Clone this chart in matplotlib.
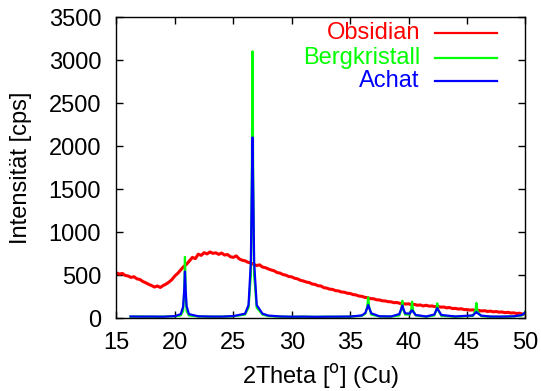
import numpy as np
import matplotlib
matplotlib.use("Agg")
import matplotlib.pyplot as plt

plt.rcParams['font.family'] = ['Liberation Sans', 'DejaVu Sans']
plt.rcParams['font.size'] = 17

obs_start = 15.0
obs_step = 0.25
obsidian = [525, 510, 518, 495, 488, 472, 480, 455, 448, 425, 410, 392,
            378, 360, 372, 355, 378, 395, 418, 448, 490, 520, 560, 598,
            625, 665, 705, 690, 742, 728, 760, 745, 768, 752, 758, 740,
            755, 732, 738, 712, 705, 722, 688, 672, 665, 648, 640, 622,
            610, 618, 592, 585, 570, 558, 548, 528, 522, 505, 498, 482,
            478, 462, 455, 438, 430, 418, 412, 395, 390, 375, 372, 352,
            348, 335, 332, 318, 315, 302, 300, 288, 285, 272, 268, 255,
            252, 240, 236, 225, 224, 212, 210, 200, 198, 190, 188, 178,
            180, 170, 168, 162, 165, 155, 158, 148, 152, 140, 148, 138,
            140, 132, 135, 126, 128, 118, 122, 110, 112, 104, 108, 98,
            98, 92, 95, 86, 88, 82, 85, 76, 80, 72, 75, 68,
            70, 62, 66, 58, 60, 52, 56, 45, 48]

# quartz samples (2Theta) shared by Bergkristall and Achat
theta_q = [16.2, 17, 18, 19, 20, 20.5, 20.7, 20.8, 20.86, 20.92, 21.0, 21.2,
           22, 23, 24, 25, 26, 26.3, 26.5, 26.58, 26.64, 26.7, 26.78, 27.0,
           27.5, 28, 29, 30, 31, 32, 33, 34, 35, 36, 36.3, 36.46, 36.54,
           36.62, 36.8, 37.5, 38.5, 39.2, 39.38, 39.46, 39.54, 39.7, 40.1,
           40.22, 40.3, 40.38, 40.6, 41.5, 42.2, 42.37, 42.45, 42.53, 42.8,
           44, 45.5, 45.72, 45.8, 45.88, 46.2, 47, 48, 49, 49.7, 49.9, 50.0]

bergkristall = [15, 18, 14, 16, 20, 30, 80, 300, 710, 300, 80, 30,
                18, 15, 16, 20, 40, 120, 500, 1600, 3100, 1600, 500, 120,
                40, 22, 16, 14, 15, 13, 15, 14, 16, 25, 50, 130, 240,
                130, 40, 18, 16, 30, 100, 200, 100, 40, 40,
                100, 190, 90, 30, 15, 30, 90, 170, 90, 25,
                15, 25, 90, 175, 80, 22, 14, 15, 18, 30, 50, 80]

achat = [18, 16, 17, 15, 22, 45, 130, 330, 540, 330, 140, 45,
         20, 17, 16, 22, 50, 150, 650, 1500, 2100, 1500, 650, 150,
         50, 28, 18, 15, 16, 14, 15, 16, 17, 30, 60, 120, 150,
         120, 55, 20, 18, 45, 110, 145, 110, 55, 50,
         80, 90, 75, 35, 18, 40, 95, 115, 95, 35,
         18, 30, 60, 70, 58, 28, 17, 16, 20, 35, 55, 70]

names = ['Obsidian', 'Bergkristall', 'Achat']
colors = ['#ff0000', '#00ff00', '#0000ff']

theta_obs = obs_start + obs_step * np.arange(len(obsidian))

fig = plt.figure(figsize=(5.41, 3.91), dpi=100)
ax = fig.add_axes([0.2153, 0.1867, 0.756, 0.7698])

ax.plot(theta_obs, obsidian, color=colors[0], lw=2.2)
ax.plot(theta_q, bergkristall, color=colors[1], lw=1.6)
ax.plot(theta_q, achat, color=colors[2], lw=1.6)

ax.set_xlim(15, 50)
ax.set_ylim(0, 3500)
ax.set_xticks(range(15, 51, 5))
ax.set_yticks(range(0, 3501, 500))
ax.tick_params(direction='in', top=True, right=True, length=5, width=1)
ax.tick_params(axis='y', pad=11)
ax.tick_params(axis='x', pad=10)
for s in ax.spines.values():
    s.set_linewidth(1)

ax.set_xlabel('2Theta [$^{\\mathrm{o}}$] (Cu)', labelpad=6)
ax.set_ylabel('Intensität [cps]', labelpad=12)

# gnuplot-style key: right aligned text, sample line after it
key_y = [0.947, 0.864, 0.787]
for name, c, yk in zip(names, colors, key_y):
    ax.text(0.742, yk, name, color=c, ha='right', va='center',
            transform=ax.transAxes)
    ax.plot([0.779, 0.930], [yk, yk], color=c, lw=1.6, transform=ax.transAxes)

fig.savefig('out.png', dpi=100)
